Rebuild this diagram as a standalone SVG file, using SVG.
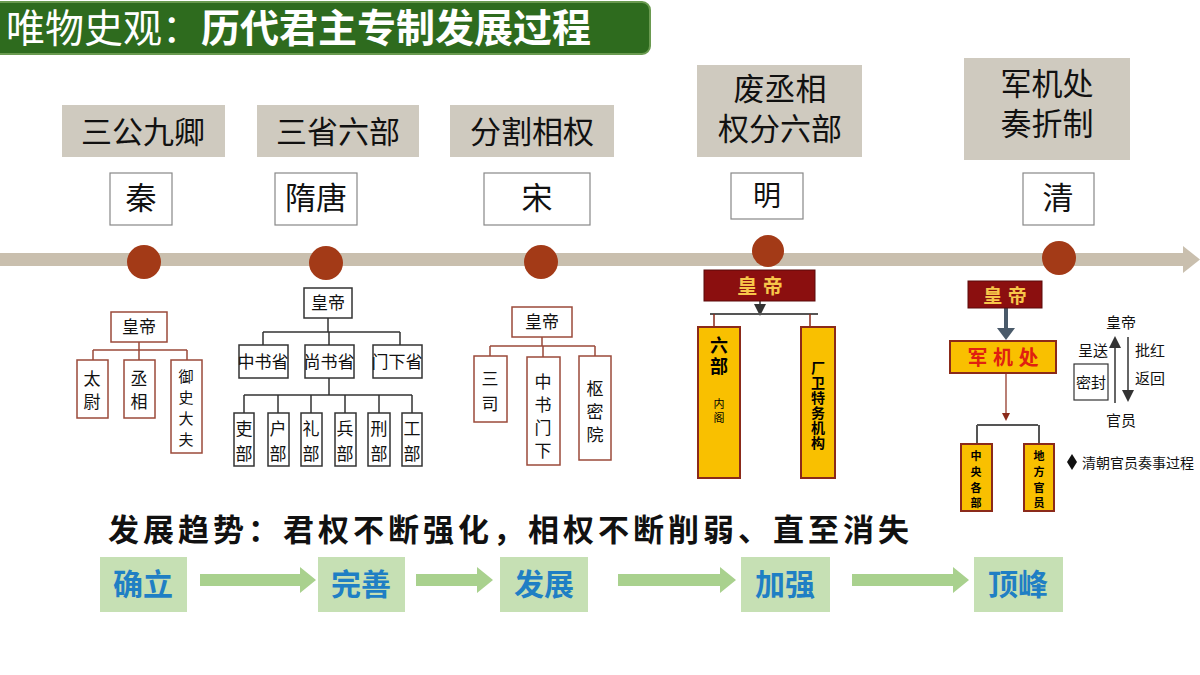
<svg xmlns="http://www.w3.org/2000/svg" width="1200" height="675" viewBox="0 0 1200 675">
<defs>
<style>
text{font-family:"Liberation Sans","Noto Sans CJK SC",sans-serif;}
.grey{fill:#cfcabf;}
.big{font-size:31px;fill:#111;text-anchor:middle;}
.dyn{fill:#fff;stroke:#888;stroke-width:1.2;}
.dot{fill:#a33a17;}
.qb{fill:#fff;stroke:#9b4a3a;stroke-width:1.5;}
.tb{fill:#fff;stroke:#333;stroke-width:1.5;}
.sm{font-size:17px;fill:#111;text-anchor:middle;font-family:"Noto Sans CJK SC","Liberation Serif",serif;}
.s15{font-size:15px;}
.ln{stroke:#333;stroke-width:1.5;fill:none;}
.qln{stroke:#9b4a3a;stroke-width:1.5;fill:none;}
.yb{fill:#f9c000;stroke:#8b2a1a;stroke-width:2;}
.red{fill:#8b0f0f;stroke:#5a0a0a;stroke-width:1;}
.gbox{fill:#c6e0b4;}
.gt{font-size:30px;font-weight:bold;fill:#1f7fc4;text-anchor:middle;}
.ga{fill:#a9d18e;}
</style>
<marker id="ah" markerWidth="8" markerHeight="8" refX="4" refY="4" orient="auto"><path d="M0,0 L8,4 L0,8 z" fill="#333"/></marker>
</defs>
<rect width="1200" height="675" fill="#fff"/>
<g id="title">
<rect x="-10" y="2" width="660" height="52" rx="8" fill="#2e6b1e" stroke="#6a9a50" stroke-width="2"/>
<text x="6" y="42" font-size="39" fill="#fff">唯物史观：<tspan font-weight="bold">历代君主专制发展过程</tspan></text>
</g>
<g id="timeline">
<rect x="0" y="253" width="1185" height="13" fill="#c9bfae"/>
<path d="M1183,246 L1200,259.5 L1183,273 z" fill="#c9bfae"/>
<circle class="dot" cx="144" cy="262" r="17"/>
<circle class="dot" cx="326" cy="263" r="17"/>
<circle class="dot" cx="541" cy="262" r="17"/>
<circle class="dot" cx="768" cy="251" r="16"/>
<circle class="dot" cx="1059" cy="258" r="17"/>
</g>
<g id="labels">
<rect class="grey" x="62" y="105" width="163" height="52"/><text class="big" x="143" y="143">三公九卿</text>
<rect class="grey" x="257" y="105" width="162" height="52"/><text class="big" x="338" y="143">三省六部</text>
<rect class="grey" x="450" y="105" width="164" height="52"/><text class="big" x="532" y="143">分割相权</text>
<rect class="grey" x="697" y="65" width="165" height="92"/><text class="big" x="780" y="100">废丞相</text><text class="big" x="780" y="140">权分六部</text>
<rect class="grey" x="964" y="58" width="166" height="102"/><text class="big" x="1047" y="95">军机处</text><text class="big" x="1047" y="135">奏折制</text>
</g>
<g id="dynasties">
<rect class="dyn" x="110" y="173" width="62" height="52"/><text class="big" x="141" y="209">秦</text>
<rect class="dyn" x="275" y="173" width="82" height="52"/><text class="big" x="316" y="209">隋唐</text>
<rect class="dyn" x="484" y="173" width="106" height="52"/><text class="big" x="537" y="209">宋</text>
<rect class="dyn" x="731" y="173" width="72" height="46"/><text class="big" x="767" y="206" style="font-size:28px">明</text>
<rect class="dyn" x="1023" y="173" width="71" height="52"/><text class="big" x="1058" y="209">清</text>
</g>
<g id="connectors">
<path class="qln" d="M139,342 V350 M93,350 H187 M93,350 V360 M139,350 V360 M187,350 V360"/>
<path class="ln" d="M328,318 V332 M263,332 H400 M263,332 V345 M329,332 V345 M400,332 V345 M329,378 V395 M244,395 H412 M244,395 V413 M278,395 V413 M311,395 V413 M345,395 V413 M379,395 V413 M412,395 V413"/>
<path class="qln" d="M542,337 V346 M490,346 H595 M490,346 V356 M543,346 V357 M595,346 V356"/>
<path class="ln" d="M760,301 V310" marker-end="url(#ah)"/>
<path d="M710,314 H818" stroke="#555" stroke-width="2"/>
<path d="M714,314 V326 M810,314 V326" stroke="#8b2a1a" stroke-width="1.5"/>
<path d="M1006,308 V330" stroke="#4a5a6a" stroke-width="4"/>
<path d="M997,328 L1015,328 L1006,340 z" fill="#4a5a6a"/>
<path d="M1006,373 V415" stroke="#8b2a1a" stroke-width="1.2"/>
<path d="M1002,413 L1010,413 L1006,421 z" fill="#8b2a1a"/>
<path d="M977,425 H1038 M977,425 V443 M1039,425 V443" stroke="#555" stroke-width="2"/>
<path class="ln" d="M1115,403 V342" marker-end="url(#ah)"/>
<path class="ln" d="M1128,337 V396" marker-end="url(#ah)"/>
</g>
<g id="qin">
<rect class="qb" x="111" y="312" width="56" height="30"/><text class="sm" x="139" y="333">皇帝</text>
<rect class="qb" x="77" y="360" width="31" height="58"/><text class="sm" x="92" y="385">太</text><text class="sm" x="92" y="408">尉</text>
<rect class="qb" x="124" y="360" width="31" height="58"/><text class="sm" x="139" y="385">丞</text><text class="sm" x="139" y="408">相</text>
<rect class="qb" x="171" y="360" width="31" height="93"/><text class="sm s15" x="186" y="382">御</text><text class="sm s15" x="186" y="403">史</text><text class="sm s15" x="186" y="424">大</text><text class="sm s15" x="186" y="445">夫</text>
</g>
<g id="suitang">
<rect class="tb" x="304" y="288" width="48" height="30"/><text class="sm" x="328" y="309">皇帝</text>
<rect class="tb" x="239" y="345" width="49" height="33"/><text class="sm" x="263" y="368">中书省</text>
<rect class="tb" x="305" y="345" width="49" height="33"/><text class="sm" x="329" y="368">尚书省</text>
<rect class="tb" x="373" y="345" width="49" height="33"/><text class="sm" x="397" y="368">门下省</text>
<rect class="tb" x="234" y="413" width="20" height="53"/><text class="sm" x="244" y="435">吏</text><text class="sm" x="244" y="460">部</text>
<rect class="tb" x="268" y="413" width="21" height="53"/><text class="sm" x="278" y="435">户</text><text class="sm" x="278" y="460">部</text>
<rect class="tb" x="301" y="413" width="21" height="53"/><text class="sm" x="311" y="435">礼</text><text class="sm" x="311" y="460">部</text>
<rect class="tb" x="335" y="413" width="21" height="53"/><text class="sm" x="345" y="435">兵</text><text class="sm" x="345" y="460">部</text>
<rect class="tb" x="368" y="413" width="22" height="53"/><text class="sm" x="379" y="435">刑</text><text class="sm" x="379" y="460">部</text>
<rect class="tb" x="402" y="413" width="20" height="53"/><text class="sm" x="412" y="435">工</text><text class="sm" x="412" y="460">部</text>
</g>
<g id="song">
<rect class="qb" x="512" y="307" width="60" height="30"/><text class="sm" x="542" y="328">皇帝</text>
<rect class="qb" x="474" y="356" width="33" height="66"/><text class="sm" x="490" y="385">三</text><text class="sm" x="490" y="410">司</text>
<rect class="qb" x="527" y="357" width="33" height="108"/><text class="sm" x="543" y="388">中</text><text class="sm" x="543" y="411">书</text><text class="sm" x="543" y="434">门</text><text class="sm" x="543" y="457">下</text>
<rect class="qb" x="579" y="356" width="32" height="104"/><text class="sm" x="595" y="395">枢</text><text class="sm" x="595" y="418">密</text><text class="sm" x="595" y="441">院</text>
</g>
<g id="ming">
<rect class="red" x="704" y="270" width="111" height="31"/><text x="760" y="294" font-size="20" font-weight="bold" fill="#f7c64a" text-anchor="middle">皇 帝</text>
<rect class="yb" x="698" y="327" width="42" height="151"/>
<text x="719" y="352" font-size="18" font-weight="bold" text-anchor="middle">六</text>
<text x="719" y="373" font-size="18" font-weight="bold" text-anchor="middle">部</text>
<text x="719" y="408" font-size="11" text-anchor="middle">内</text>
<text x="719" y="422" font-size="11" text-anchor="middle">阁</text>
<rect class="yb" x="801" y="327" width="34" height="151"/>
<g font-size="14" font-weight="bold" text-anchor="middle"><text x="818" y="373">厂</text><text x="818" y="388">卫</text><text x="818" y="403">特</text><text x="818" y="418">务</text><text x="818" y="433">机</text><text x="818" y="448">构</text></g>
</g>
<g id="qing">
<rect class="red" x="968" y="281" width="74" height="27"/><text x="1005" y="303" font-size="19" font-weight="bold" fill="#f7c64a" text-anchor="middle">皇 帝</text>
<rect class="yb" x="950" y="341" width="106" height="32"/><text x="1003" y="365" font-size="20" font-weight="bold" fill="#e02010" text-anchor="middle">军 机 处</text>
<rect class="yb" x="961" y="444" width="31" height="67"/>
<g font-size="11" font-weight="bold" text-anchor="middle"><text x="976" y="460">中</text><text x="976" y="476">央</text><text x="976" y="492">各</text><text x="976" y="507">部</text></g>
<rect class="yb" x="1024" y="444" width="30" height="67"/>
<g font-size="11" font-weight="bold" text-anchor="middle"><text x="1039" y="460">地</text><text x="1039" y="476">方</text><text x="1039" y="492">官</text><text x="1039" y="507">员</text></g>
<text class="sm s15" x="1121" y="328">皇帝</text>
<text class="sm s15" x="1121" y="426">官员</text>
<text class="sm s15" x="1093" y="356">呈送</text>
<rect x="1074" y="364" width="34" height="36" fill="#fff" stroke="#333" stroke-width="1.2"/>
<text class="sm s15" x="1091" y="388">密封</text>
<text class="sm s15" x="1150" y="356">批红</text>
<text class="sm s15" x="1150" y="384">返回</text>
<path d="M1072,454 L1077,462 L1072,470 L1067,462 z" fill="#111"/>
<text class="sm" x="1082" y="468" style="font-size:14px;text-anchor:start">清朝官员奏事过程</text>
</g>
<g id="trend">
<text x="108" y="541" font-size="31" font-weight="bold" fill="#111" letter-spacing="4">发展趋势：君权不断强化，相权不断削弱、直至消失</text>
<rect class="gbox" x="100" y="557" width="87" height="55"/><text class="gt" x="143" y="595">确立</text>
<rect class="gbox" x="318" y="557" width="87" height="55"/><text class="gt" x="361" y="595">完善</text>
<rect class="gbox" x="500" y="557" width="88" height="55"/><text class="gt" x="544" y="595">发展</text>
<rect class="gbox" x="741" y="557" width="89" height="55"/><text class="gt" x="785" y="595">加强</text>
<rect class="gbox" x="974" y="557" width="89" height="55"/><text class="gt" x="1018" y="595">顶峰</text>
<path class="ga" d="M200,574 H300 V567 L316,580 L300,593 V586 H200 z"/>
<path class="ga" d="M416,574 H477 V567 L493,580 L477,593 V586 H416 z"/>
<path class="ga" d="M618,574 H720 V567 L736,580 L720,593 V586 H618 z"/>
<path class="ga" d="M852,574 H953 V567 L969,580 L953,593 V586 H852 z"/>
</g>
</svg>
